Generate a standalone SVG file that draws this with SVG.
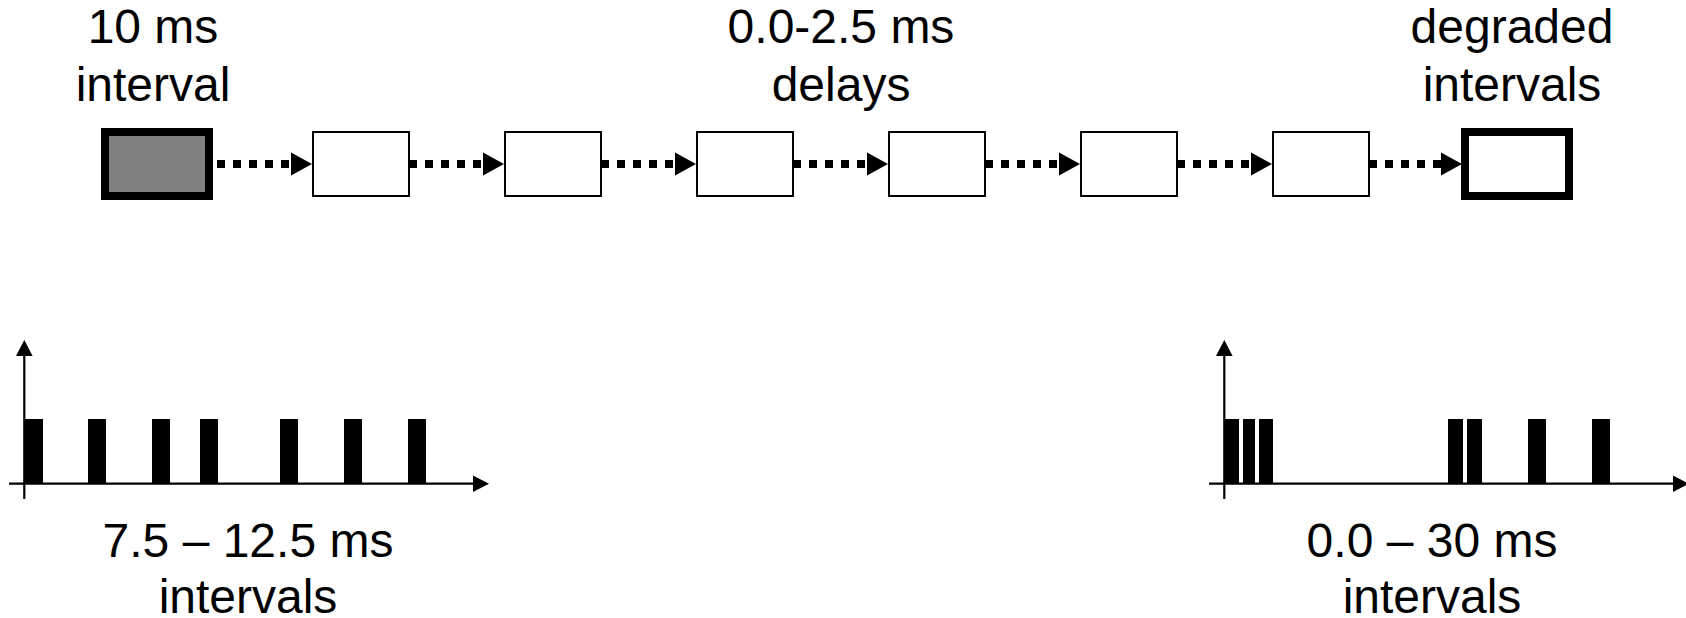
<svg xmlns="http://www.w3.org/2000/svg" width="1686" height="618" viewBox="0 0 1686 618">
  <style>
    text { font-family: "Liberation Sans", Arial, sans-serif; font-size: 48px; fill: #000; text-anchor: middle; }
    .stage { fill: #fff; stroke: #000; stroke-width: 2; }
    .heavy { stroke-width: 8; }
    .link { stroke: #000; stroke-width: 8; stroke-dasharray: 8 8; fill: none; }
    .axis { stroke: #000; stroke-width: 2.2; fill: none; }
    .pulse { fill: #000; }
    .gap { fill: #fff; }
  </style>
  <defs>
    <marker id="head" markerUnits="userSpaceOnUse" viewBox="0 -12 21 24" markerWidth="21" markerHeight="24" refX="0" refY="0" orient="auto" overflow="visible">
      <path d="M0,-11.5 L21,0 L0,11.5 Z" fill="#000"/>
    </marker>
    <marker id="axisHead" markerUnits="userSpaceOnUse" viewBox="0 -8.5 16 17" markerWidth="16" markerHeight="17" refX="0" refY="0" orient="auto" overflow="visible">
      <path d="M0,-8.3 L16,0 L0,8.3 Z" fill="#000"/>
    </marker>
  </defs>

  <!-- labels above the chain -->
  <g id="label-interval">
    <text x="153" y="43">10 ms</text>
    <text x="153" y="101">interval</text>
  </g>
  <g id="label-delays">
    <text x="841" y="43">0.0-2.5 ms</text>
    <text x="841" y="101">delays</text>
  </g>
  <g id="label-degraded">
    <text x="1512" y="43">degraded</text>
    <text x="1512" y="101">intervals</text>
  </g>

  <!-- chain of stages -->
  <g id="stage-source"><rect class="stage heavy" x="105" y="132" width="104" height="64" fill="#808080" style="fill:#808080"/></g>
  <g id="stage-1"><rect class="stage" x="313" y="132" width="96" height="64"/></g>
  <g id="stage-2"><rect class="stage" x="505" y="132" width="96" height="64"/></g>
  <g id="stage-3"><rect class="stage" x="697" y="132" width="96" height="64"/></g>
  <g id="stage-4"><rect class="stage" x="889" y="132" width="96" height="64"/></g>
  <g id="stage-5"><rect class="stage" x="1081" y="132" width="96" height="64"/></g>
  <g id="stage-6"><rect class="stage" x="1273" y="132" width="96" height="64"/></g>
  <g id="stage-sink"><rect class="stage heavy" x="1465" y="132" width="104" height="64"/></g>

  <!-- dotted links between stages -->
  <g id="connectors">
    <line class="link" x1="217" y1="164" x2="291" y2="164" marker-end="url(#head)"/>
    <line class="link" x1="409" y1="164" x2="483" y2="164" marker-end="url(#head)"/>
    <line class="link" x1="601" y1="164" x2="675" y2="164" marker-end="url(#head)"/>
    <line class="link" x1="793" y1="164" x2="867" y2="164" marker-end="url(#head)"/>
    <line class="link" x1="985" y1="164" x2="1059" y2="164" marker-end="url(#head)"/>
    <line class="link" x1="1177" y1="164" x2="1251" y2="164" marker-end="url(#head)"/>
    <line class="link" x1="1369" y1="164" x2="1441" y2="164" marker-end="url(#head)"/>
  </g>

  <!-- regular pulse train -->
  <g id="plot-input">
    <rect class="pulse" x="25" y="419" width="18" height="65"/>
    <rect class="pulse" x="88" y="419" width="18" height="65"/>
    <rect class="pulse" x="152" y="419" width="18" height="65"/>
    <rect class="pulse" x="200" y="419" width="18" height="65"/>
    <rect class="pulse" x="280" y="419" width="18" height="65"/>
    <rect class="pulse" x="344" y="419" width="18" height="65"/>
    <rect class="pulse" x="408" y="419" width="18" height="65"/>
    <line class="axis" x1="24.3" y1="499" x2="24.3" y2="356" marker-end="url(#axisHead)"/>
    <line class="axis" x1="9" y1="483.7" x2="473" y2="483.7" marker-end="url(#axisHead)"/>
    <text x="248" y="557">7.5 – 12.5 ms</text>
    <text x="248" y="613">intervals</text>
  </g>

  <!-- degraded pulse train -->
  <g id="plot-output">
    <rect class="pulse" x="1225" y="419" width="48" height="65"/>
    <rect class="gap" x="1239" y="419" width="4" height="64"/>
    <rect class="gap" x="1255" y="419" width="4" height="64"/>
    <rect class="pulse" x="1448" y="419" width="34" height="65"/>
    <rect class="gap" x="1463" y="419" width="4" height="64"/>
    <rect class="pulse" x="1528" y="419" width="18" height="65"/>
    <rect class="pulse" x="1592" y="419" width="18" height="65"/>
    <line class="axis" x1="1224.3" y1="499" x2="1224.3" y2="356" marker-end="url(#axisHead)"/>
    <line class="axis" x1="1209" y1="483.7" x2="1673" y2="483.7" marker-end="url(#axisHead)"/>
    <text x="1432" y="557">0.0 – 30 ms</text>
    <text x="1432" y="613">intervals</text>
  </g>
</svg>
